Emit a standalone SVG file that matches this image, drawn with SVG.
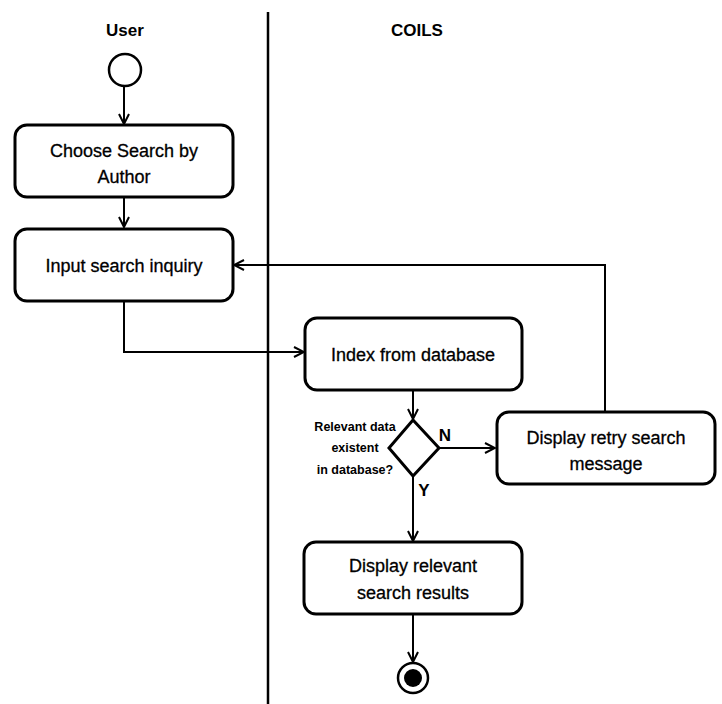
<svg xmlns="http://www.w3.org/2000/svg" width="722" height="704" viewBox="0 0 722 704">
<defs>
<marker id="arr" viewBox="0 0 12 12" refX="11" refY="6" markerWidth="12" markerHeight="12" markerUnits="userSpaceOnUse" orient="auto">
<path d="M1,1 L11,6 L1,11" fill="none" stroke="#000" stroke-width="2"/>
</marker>
</defs>
<style>
.box{fill:#fff;stroke:#000;stroke-width:3}
.t{font-family:"Liberation Sans",Arial,sans-serif;font-size:18px;fill:#000;stroke:#000;stroke-width:0.3;text-anchor:middle}
.h{font-family:"Liberation Sans",Arial,sans-serif;font-size:17px;font-weight:bold;fill:#000;text-anchor:middle}
.s{font-family:"Liberation Sans",Arial,sans-serif;font-size:12.5px;font-weight:bold;fill:#000;text-anchor:middle}
.c{fill:none;stroke:#000;stroke-width:2;marker-end:url(#arr)}
</style>
<rect width="722" height="704" fill="#fff"/>
<g id="lane">
<line x1="268" y1="12" x2="268" y2="704" stroke="#000" stroke-width="2.5"/>
<text class="h" x="125" y="36">User</text>
<text class="h" x="417" y="36">COILS</text>
</g>
<g id="connectors">
<path class="c" d="M124,86 V124"/>
<path class="c" d="M124,197 V227"/>
<path class="c" d="M124,301 V352 H304"/>
<path class="c" d="M413,390 V419"/>
<path class="c" d="M439,448 H495"/>
<path class="c" d="M605,411 V265 H234"/>
<path class="c" d="M413,477 V541"/>
<path class="c" d="M413,614 V662"/>
</g>
<g id="start"><circle cx="125" cy="70" r="16" fill="#fff" stroke="#000" stroke-width="2.5"/></g>
<g id="choose">
<rect class="box" x="15" y="125" width="218" height="72" rx="12"/>
<text class="t" x="124" y="157">Choose Search by</text>
<text class="t" x="124" y="183">Author</text>
</g>
<g id="input">
<rect class="box" x="15" y="229" width="218" height="72" rx="12"/>
<text class="t" x="124" y="272">Input search inquiry</text>
</g>
<g id="index">
<rect class="box" x="305" y="318" width="217" height="72" rx="12"/>
<text class="t" x="413" y="361">Index from database</text>
</g>
<g id="decision">
<polygon points="413,420 439,448 413,476 389,448" fill="#fff" stroke="#000" stroke-width="3"/>
<text class="s" x="355" y="431">Relevant data</text>
<text class="s" x="355" y="452">existent</text>
<text class="s" x="355" y="474">in database?</text>
<text class="h" x="445" y="441">N</text>
<text class="h" x="424" y="496">Y</text>
</g>
<g id="retry">
<rect class="box" x="497" y="412" width="218" height="72" rx="12"/>
<text class="t" x="606" y="444">Display retry search</text>
<text class="t" x="606" y="470">message</text>
</g>
<g id="results">
<rect class="box" x="304" y="542" width="218" height="72" rx="12"/>
<text class="t" x="413" y="572">Display relevant</text>
<text class="t" x="413" y="599">search results</text>
</g>
<g id="end">
<circle cx="413" cy="678" r="15" fill="#fff" stroke="#000" stroke-width="2.5"/>
<circle cx="413" cy="678" r="9" fill="#000"/>
</g>
</svg>
